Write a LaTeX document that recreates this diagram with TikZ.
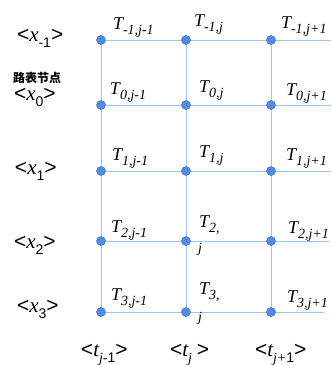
\documentclass[tikz,border=0pt]{standalone}
\usepackage{fontspec}
\newfontfamily\serif{Liberation Serif}
\newfontfamily\sans{Liberation Sans}
\newfontfamily\cjk{Noto Sans CJK SC}
\definecolor{gridline}{RGB}{160,197,236}
\definecolor{dotfill}{RGB}{80,140,225}
\definecolor{dotdraw}{RGB}{60,110,200}
\newcommand{\Tlab}[1]{{\fontsize{18}{18}\selectfont\serif\itshape T\raisebox{-5pt}{\fontsize{14}{14}\selectfont #1}}}
\newcommand{\Xlab}[1]{{\fontsize{21}{21}\selectfont\sans <{\serif\itshape x}\raisebox{-6pt}{\fontsize{14}{14}\selectfont #1}>}}
\newcommand{\Tblab}[2]{{\fontsize{21}{21}\selectfont\sans <{\serif\itshape t}\raisebox{-6pt}{\fontsize{14}{14}\selectfont{\serif\itshape #1}#2}>}}
\begin{document}
\begin{tikzpicture}[x=1pt,y=-1pt,
  gline/.style={draw=gridline,line width=1pt},
  gdot/.style={circle,fill=dotfill,draw=dotdraw,line width=0.5pt,minimum size=9pt,inner sep=0pt},
  lab/.style={anchor=base west,inner sep=0pt,outer sep=0pt}]
\useasboundingbox (0,0) rectangle (332,365);
% grid coordinates
\foreach \c/\cx in {a/101,b/186,c/271}{
  \foreach \r/\ry in {1/40,2/105,3/171,4/241,5/312}{
    \coordinate (p\c\r) at (\cx,\ry);
  }
}
\coordinate (e1) at (331,40);
\coordinate (e2) at (331,105);
\coordinate (e3) at (331,171);
\coordinate (e4) at (329,241);
\coordinate (e5) at (324,312);
\foreach \r in {1,...,5}{
  \draw[gline] (pa\r) -- (e\r);
}
\foreach \c in {a,b,c}{
  \draw[gline] (p\c1) -- (p\c5);
}
\foreach \c in {a,b,c}{
  \foreach \r in {1,...,5}{
    \node[gdot] (d\c\r) at (p\c\r) {};
  }
}
% T labels
\node[lab] (ta1) at (113,29) {\Tlab{-1,j-1}};
\node[lab] (tb1) at (194,26) {\Tlab{-1,j}};
\node[lab] (tc1) at (281,28) {\Tlab{-1,j+1}};
\node[lab] (ta2) at (110,94) {\Tlab{0,j-1}};
\node[lab] (tb2) at (199,92) {\Tlab{0,j}};
\node[lab] (tc2) at (286,95) {\Tlab{0,j+1}};
\node[lab] (ta3) at (112,160) {\Tlab{1,j-1}};
\node[lab] (tb3) at (199,157) {\Tlab{1,j}};
\node[lab] (tc3) at (286,160) {\Tlab{1,j+1}};
\node[lab] (ta4) at (111,232) {\Tlab{2,j-1}};
\node[lab] (tb4) at (199,227) {\Tlab{2,}};
\node[lab] (tb4j) at (198,252) {\fontsize{14}{14}\selectfont\serif\itshape j};
\node[lab] (tc4) at (288,233) {\Tlab{2,j+1}};
\node[lab] (ta5) at (111,300) {\Tlab{3,j-1}};
\node[lab] (tb5) at (199,294) {\Tlab{3,}};
\node[lab] (tb5j) at (198,321) {\fontsize{14}{14}\selectfont\serif\itshape j};
\node[lab] (tc5) at (287,302) {\Tlab{3,j+1}};
% row labels
\node[lab] (x1) at (17,41) {\Xlab{-1}};
\node[anchor=center,inner sep=0pt] (road) at (37,77.5) {\fontsize{12}{12}\selectfont\cjk\bfseries 路表节点};
\node[lab] (x2) at (14,100) {\Xlab{0}};
\node[lab] (x3) at (15,174) {\Xlab{1}};
\node[lab] (x4) at (14,248) {\Xlab{2}};
\node[lab] (x5) at (17,312) {\Xlab{3}};
% column labels
\node[lab] (c1) at (81,356) {\Tblab{j-}{1}};
\node[lab] (c2) at (170,356) {\Tblab{j}{\kern5pt}};
\node[lab] (c3) at (255,356) {\Tblab{j+}{1}};
\end{tikzpicture}
\end{document}
